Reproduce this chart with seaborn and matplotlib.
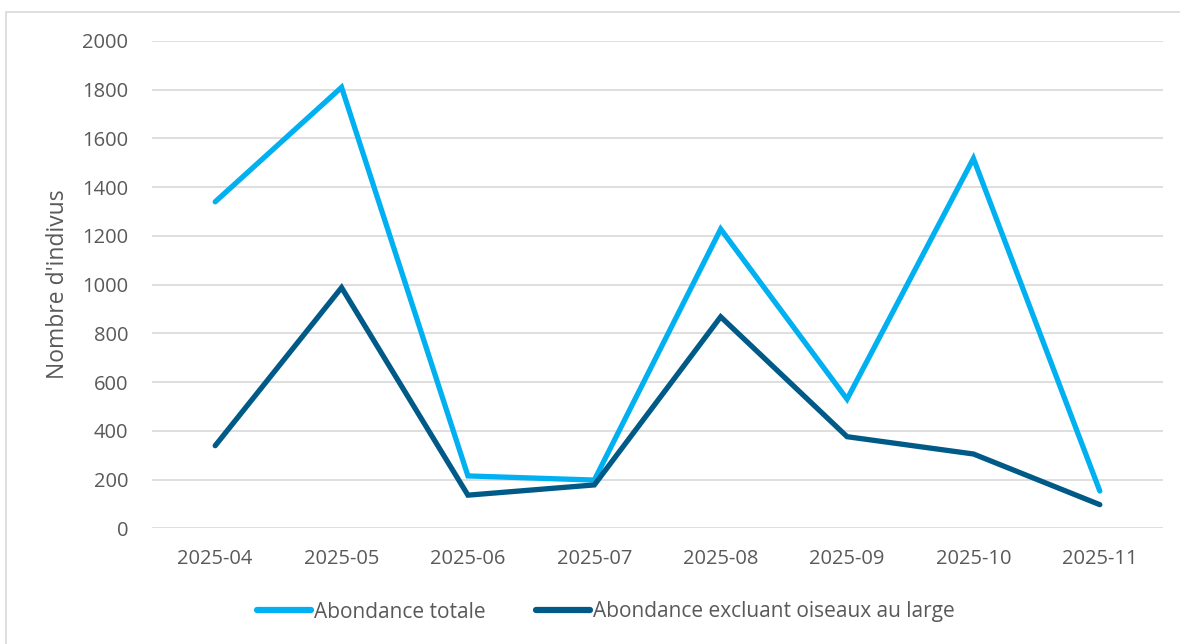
import matplotlib
matplotlib.use("Agg")
import matplotlib.pyplot as plt
from matplotlib.patches import Rectangle
from matplotlib.lines import Line2D
import pandas as pd
import seaborn as sns

# Monthly bird counts
months = ["2025-04", "2025-05", "2025-06", "2025-07",
          "2025-08", "2025-09", "2025-10", "2025-11"]
total = [1340, 1810, 215, 198, 1228, 530, 1518, 153]
excl_offshore = [339, 988, 136, 178, 868, 376, 305, 97]

series_names = ["Abondance totale", "Abondance excluant oiseaux au large"]
colors = {"Abondance totale": "#00B0F0",
          "Abondance excluant oiseaux au large": "#005A87"}
yticks = [0, 200, 400, 600, 800, 1000, 1200, 1400, 1600, 1800, 2000]

df = pd.DataFrame({
    "mois": months * 2,
    "valeur": total + excl_offshore,
    "serie": [series_names[0]] * len(months) + [series_names[1]] * len(months),
})

sns.set_theme(style="white")
plt.rcParams["font.family"] = ["Open Sans", "DejaVu Sans"]
text_color = "#595959"
fs = 14.5

W, H = 1180, 644
fig = plt.figure(figsize=(W / 100, H / 100), dpi=100)
ax = fig.add_axes([152 / W, 1 - 528.3 / H, (1163 - 152) / W, (528.3 - 41) / H])

sns.lineplot(data=df, x="mois", y="valeur", hue="serie", palette=colors,
             linewidth=3.8, sort=False, ax=ax, legend=False)
for ln in ax.lines:
    ln.set_solid_capstyle("round")
    ln.set_solid_joinstyle("miter")

ax.set_xlim(-0.5, len(months) - 0.5)
ax.set_ylim(0, 2000)
ax.set_yticks(yticks)
ax.set_yticklabels([str(v) for v in yticks])
ax.grid(axis="y", color="#D9D9D9", linewidth=1.2)
ax.grid(axis="x", visible=False)
ax.set_axisbelow(True)
for s in ax.spines.values():
    s.set_visible(False)
ax.tick_params(axis="both", length=0, labelsize=fs, labelcolor=text_color)
ax.tick_params(axis="y", pad=17)
ax.tick_params(axis="x", pad=15)
ax.set_xlabel("")
ax.set_ylabel("Nombre d'indivus", fontsize=16.5, color=text_color, labelpad=9)

handles = [Line2D([], [], color=colors[n], linewidth=4.5, solid_capstyle="round")
           for n in series_names]
fig.legend(handles, series_names, loc="center", ncol=2,
           bbox_to_anchor=(606 / W, 1 - 612 / H), frameon=False,
           fontsize=15, labelcolor=text_color, handlelength=2.6,
           handletextpad=0.15, columnspacing=2.4)

# Chart area frame
fig.patches.append(Rectangle((6 / W, -0.1), 1.5, (H - 12) / H + 0.1,
                             transform=fig.transFigure, fill=False,
                             edgecolor="#D9D9D9", linewidth=1.2))

fig.savefig("out.png", dpi=100, facecolor="white")
